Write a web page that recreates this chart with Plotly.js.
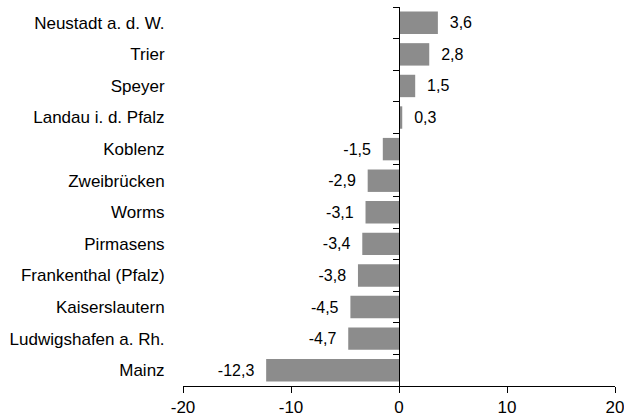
<!DOCTYPE html>
<html>
<head>
<meta charset="utf-8">
<script src="https://cdn.plot.ly/plotly-3.0.1.min.js"></script>
<style>html,body{margin:0;padding:0;background:#fff;}#chart{width:624px;height:417px;}</style>
</head>
<body>
<div id="chart"></div>
<script>
var cities = ["Neustadt a. d. W.", "Trier", "Speyer", "Landau i. d. Pfalz", "Koblenz", "Zweibrücken", "Worms", "Pirmasens", "Frankenthal (Pfalz)", "Kaiserslautern", "Ludwigshafen a. Rh.", "Mainz"];
var values = [3.6, 2.8, 1.5, 0.3, -1.5, -2.9, -3.1, -3.4, -3.8, -4.5, -4.7, -12.3];
var xTicks = [-20, -10, 0, 10, 20];
var xTickLabels = ["-20", "-10", "0", "10", "20"];

var NB = "\u00a0\u00a0";
var labels = values.map(function (v) {
  var s = v.toFixed(1).replace(".", ",");
  return v >= 0 ? NB + s : s + NB;
});

var family = "'Liberation Sans', Arial, Helvetica, sans-serif";
var font = {family: family, size: 17, color: "#000"};
var valFont = {family: family, size: 16, color: "#000"};

var bars = {
  type: "bar",
  orientation: "h",
  y: cities,
  x: values,
  marker: {color: "#8c8c8c", line: {width: 0}},
  text: labels,
  textposition: "outside",
  textfont: valFont,
  cliponaxis: false,
  hoverinfo: "skip"
};

var ghost = {
  type: "scatter",
  mode: "markers",
  y: cities,
  x: values,
  yaxis: "y2",
  marker: {opacity: 0, size: 1},
  hoverinfo: "skip",
  showlegend: false
};

var layout = {
  width: 624,
  height: 417,
  margin: {l: 183, r: 9, t: 7, b: 31},
  paper_bgcolor: "#fff",
  plot_bgcolor: "#fff",
  font: font,
  showlegend: false,
  bargap: 0.29,
  xaxis: {
    range: [-20, 20],
    tickvals: xTicks,
    ticktext: xTickLabels,
    ticks: "outside",
    ticklen: 6,
    tickcolor: "#000",
    tickwidth: 1,
    showline: true,
    linecolor: "#000",
    linewidth: 1,
    showgrid: false,
    zeroline: false,
    tickfont: font,
    ticklabeloverflow: "allow",
    automargin: false
  },
  yaxis: {
    type: "category",
    range: [11.5, -0.5],
    autorange: false,
    showline: false,
    showgrid: false,
    zeroline: false,
    ticks: "outside",
    ticklen: 14,
    tickcolor: "rgba(0,0,0,0)",
    tickfont: font,
    automargin: false
  },
  yaxis2: {
    type: "category",
    overlaying: "y",
    range: [11.5, -0.5],
    autorange: false,
    anchor: "free",
    position: 0.5,
    side: "left",
    showticklabels: false,
    showline: true,
    linecolor: "#000",
    linewidth: 1,
    ticks: "outside",
    tickson: "boundaries",
    ticklen: 6,
    tickcolor: "#000",
    tickwidth: 1,
    showgrid: false,
    zeroline: false
  }
};

Plotly.newPlot("chart", [bars, ghost], layout, {staticPlot: true});
</script>
</body>
</html>
